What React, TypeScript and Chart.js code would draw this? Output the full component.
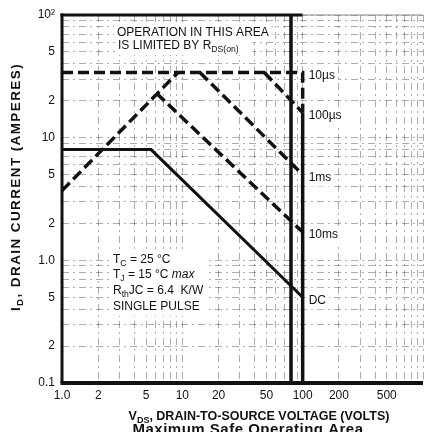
import React, { useEffect, useRef } from 'react';
import { Chart, registerables } from 'chart.js';

Chart.register(...registerables);

// grid / tick values
const xGrid = [1, 2, 3, 4, 5, 6, 7, 8, 9, 10, 20, 30, 40, 50, 60, 70, 80, 90, 100, 200, 300, 400, 500, 600, 700, 800, 900, 1000];
const yGrid = [0.1, 0.2, 0.3, 0.4, 0.5, 0.6, 0.7, 0.8, 0.9, 1, 2, 3, 4, 5, 6, 7, 8, 9, 10, 20, 30, 40, 50, 60, 70, 80, 90, 100];
const xTickValues = [1, 2, 5, 10, 20, 50, 100, 200, 500];
const xTickLabels = ['1.0', '2', '5', '10', '20', '50', '100', '200', '500'];
const yTickValues = [0.1, 0.2, 0.5, 1, 2, 5, 10, 20, 50, 100];
const yTickLabels = ['0.1', '2', '5', '1.0', '2', '5', '10', '2', '5', '10²'];

// curves (volts, amperes)
const rdsV = [1, 9.2];
const rdsI = [3.7, 34];
const us10V = [1, 100, 100];
const us10I = [34, 34, 16];
const us100V = [48, 100];
const us100I = [34, 16];
const ms1V = [14, 100];
const ms1I = [34, 5];
const ms10V = [6.1, 100];
const ms10I = [23, 1.7];
const dcV = [1, 5.5, 100];
const dcI = [8, 8, 0.5];
const bv100V = [100, 100];
const bv100I = [16, 0.1];
const bv80V = [80, 80];
const bv80I = [100, 0.1];

const curveNames = ['10µs', '100µs', '1ms', '10ms', 'DC'];
const curveEndI = [us10I[1], us100I[1], ms1I[1], ms10I[1], dcI[2]];
const curveEndV = 100;

const FONT = '"Liberation Sans", Arial, Helvetica, sans-serif';

const pts = (xs: number[], ys: number[]) => xs.map((x, i) => ({ x, y: ys[i] }));
const findLabel = (vals: number[], labels: string[], v: number) => {
  const i = vals.findIndex((t) => Math.abs(t - v) / t < 1e-6);
  return i >= 0 ? labels[i] : '';
};

type Part = { t: string; sub?: boolean; italic?: boolean };

function richWidth(ctx: CanvasRenderingContext2D, parts: Part[], size: number, bold: boolean) {
  let w = 0;
  for (const p of parts) {
    const s = p.sub ? size * 0.72 : size;
    ctx.font = `${p.italic ? 'italic ' : ''}${bold ? 'bold ' : ''}${s}px ${FONT}`;
    w += ctx.measureText(p.t).width;
  }
  return w;
}

function drawRich(ctx: CanvasRenderingContext2D, parts: Part[], x: number, y: number, size: number, bold: boolean) {
  let cx = x;
  ctx.textBaseline = 'middle';
  ctx.textAlign = 'left';
  for (const p of parts) {
    const s = p.sub ? size * 0.72 : size;
    ctx.font = `${p.italic ? 'italic ' : ''}${bold ? 'bold ' : ''}${s}px ${FONT}`;
    ctx.fillText(p.t, cx, p.sub ? y + size * 0.3 : y);
    cx += ctx.measureText(p.t).width;
  }
}

function clearBehind(ctx: CanvasRenderingContext2D, parts: Part[], x: number, y: number, size: number) {
  const w = richWidth(ctx, parts, size, false);
  ctx.save();
  ctx.fillStyle = '#fff';
  ctx.fillRect(x - 3, y - size * 0.6, w + 6, size * 1.35);
  ctx.restore();
}

const annotPlugin = {
  id: 'annot',
  beforeDatasetsDraw(chart: any) {
    const ctx: CanvasRenderingContext2D = chart.ctx;
    const xs = chart.scales.x;
    const ys = chart.scales.y;
    ctx.save();
    for (let i = 0; i < curveNames.length; i++) {
      const px = xs.getPixelForValue(curveEndV) + 6;
      const py = ys.getPixelForValue(curveEndI[i]) + 3;
      clearBehind(ctx, [{ t: curveNames[i] }], px, py, 12);
    }
    clearBehind(ctx, [{ t: 'OPERATION IN THIS AREA' }], 117, 33, 12);
    clearBehind(ctx, [{ t: 'IS LIMITED BY RDS(on)' }], 118, 46, 12);
    clearBehind(ctx, [{ t: 'RthJC = 6.4  K/W' }], 113, 260, 12);
    clearBehind(ctx, [{ t: 'RthJC = 6.4  K/W' }], 113, 275, 12);
    clearBehind(ctx, [{ t: 'RthJC = 6.4  K/W' }], 113, 291, 12);
    clearBehind(ctx, [{ t: 'RthJC = 6.4  K/W' }], 113, 307, 12);
    ctx.restore();
  },
  afterDraw(chart: any) {
    const ctx: CanvasRenderingContext2D = chart.ctx;
    const xs = chart.scales.x;
    const ys = chart.scales.y;
    const a = chart.chartArea;
    ctx.save();
    ctx.fillStyle = '#111';
    ctx.strokeStyle = '#111';

    // borders
    ctx.lineCap = 'butt';
    ctx.lineWidth = 3;
    ctx.beginPath();
    ctx.moveTo(a.left, a.top - 1.5);
    ctx.lineTo(a.left, a.bottom);
    ctx.stroke();
    ctx.beginPath();
    ctx.moveTo(a.left - 1.5, a.top);
    ctx.lineTo(xs.getPixelForValue(100), a.top);
    ctx.stroke();
    ctx.lineWidth = 4;
    ctx.beginPath();
    ctx.moveTo(a.left - 1.5, a.bottom);
    ctx.lineTo(a.right, a.bottom);
    ctx.stroke();
    ctx.lineWidth = 1;
    ctx.strokeStyle = '#888';
    ctx.beginPath();
    ctx.moveTo(xs.getPixelForValue(100), a.top);
    ctx.lineTo(a.right, a.top);
    ctx.stroke();

    // curve labels
    for (let i = 0; i < curveNames.length; i++) {
      const px = xs.getPixelForValue(curveEndV) + 6;
      const py = ys.getPixelForValue(curveEndI[i]) + 3;
      drawRich(ctx, [{ t: curveNames[i] }], px, py, 12, false);
    }

    // Rds annotation
    drawRich(ctx, [{ t: 'OPERATION IN THIS AREA' }], 117, 33, 12, false);
    drawRich(ctx, [{ t: 'IS LIMITED BY R' }, { t: 'DS(on)', sub: true }], 118, 46, 12, false);

    // conditions
    drawRich(ctx, [{ t: 'T' }, { t: 'C', sub: true }, { t: ' = 25 °C' }], 113, 260, 12, false);
    drawRich(ctx, [{ t: 'T' }, { t: 'J', sub: true }, { t: ' = 15 °C ' }, { t: 'max', italic: true }], 113, 275, 12, false);
    drawRich(ctx, [{ t: 'R' }, { t: 'th', sub: true }, { t: 'JC = 6.4  K/W' }], 113, 291, 12, false);
    drawRich(ctx, [{ t: 'SINGLE PULSE' }], 113, 307, 12, false);

    // x title
    const xt: Part[] = [{ t: 'V' }, { t: 'DS', sub: true }, { t: ', DRAIN-TO-SOURCE VOLTAGE (VOLTS)' }];
    const xw = richWidth(ctx, xt, 12.5, true);
    drawRich(ctx, xt, 259 - xw / 2, 417, 12.5, true);

    // caption
    (ctx as any).letterSpacing = '0.5px';
    const cap: Part[] = [{ t: 'Maximum Safe Operating Area' }];
    const cw = richWidth(ctx, cap, 15, true);
    drawRich(ctx, cap, 248 - cw / 2, 430, 15, true);

    // y title
    (ctx as any).letterSpacing = '1.4px';
    const yt: Part[] = [{ t: 'I' }, { t: 'D', sub: true }, { t: ', DRAIN CURRENT (AMPERES)' }];
    const yw = richWidth(ctx, yt, 13.5, true);
    ctx.translate(16, 187);
    ctx.rotate(-Math.PI / 2);
    drawRich(ctx, yt, -yw / 2, 0, 13.5, true);
    ctx.restore();
  },
};

export default function App() {
  const ref = useRef<HTMLCanvasElement | null>(null);
  useEffect(() => {
    if (!ref.current) return;
    const dashed = { borderColor: '#111', borderWidth: 3.5, borderDash: [11, 5], pointRadius: 0, tension: 0, fill: false };
    const solid = { borderColor: '#111', borderWidth: 3, pointRadius: 0, tension: 0, fill: false };
    const gridColor = 'rgba(0,0,0,0.32)';
    const chart = new Chart(ref.current, {
      type: 'line',
      data: {
        datasets: [
          { label: 'RDS(on)', data: pts(rdsV, rdsI), ...dashed },
          { label: '10µs', data: pts(us10V, us10I), ...dashed },
          { label: '100µs', data: pts(us100V, us100I), ...dashed },
          { label: '1ms', data: pts(ms1V, ms1I), ...dashed },
          { label: '10ms', data: pts(ms10V, ms10I), ...dashed },
          { label: 'DC', data: pts(dcV, dcI), ...solid },
          { label: 'BV100', data: pts(bv100V, bv100I), ...solid, borderWidth: 3.5 },
          { label: 'BV80', data: pts(bv80V, bv80I), ...solid, borderWidth: 3.5 },
        ] as any,
      },
      options: {
        animation: false,
        responsive: false,
        devicePixelRatio: 1,
        parsing: false as any,
        layout: { padding: { top: 15, right: 0, left: 0, bottom: 0 } },
        plugins: { legend: { display: false }, tooltip: { enabled: false } },
        scales: {
          x: {
            type: 'logarithmic',
            min: 1,
            max: 1000,
            afterBuildTicks: (s: any) => {
              s.ticks = xGrid.map((v) => ({ value: v }));
            },
            afterFit: (s: any) => {
              s.height = 49;
            },
            grid: { color: gridColor, lineWidth: 1, drawTicks: false },
            border: { display: false, dash: [7, 4, 2, 4] },
            ticks: {
              autoSkip: false,
              maxRotation: 0,
              minRotation: 0,
              padding: 5,
              color: '#111',
              font: { family: FONT, size: 12 },
              callback: (v: any) => findLabel(xTickValues, xTickLabels, Number(v)),
            },
          },
          y: {
            type: 'logarithmic',
            min: 0.1,
            max: 100,
            afterBuildTicks: (s: any) => {
              s.ticks = yGrid.map((v) => ({ value: v }));
            },
            afterFit: (s: any) => {
              s.width = 62;
            },
            grid: { color: gridColor, lineWidth: 1, drawTicks: false },
            border: { display: false, dash: [7, 4, 2, 4] },
            ticks: {
              autoSkip: false,
              padding: 7,
              color: '#111',
              font: { family: FONT, size: 12 },
              callback: (v: any) => findLabel(yTickValues, yTickLabels, Number(v)),
            },
          },
        },
      } as any,
      plugins: [annotPlugin],
    });
    return () => chart.destroy();
  }, []);
  return (
    <div style={{ position: 'fixed', left: 0, top: 0, width: 428, height: 432, background: '#fff' }}>
      <canvas ref={ref} width={428} height={432} style={{ width: 428, height: 432, display: 'block' }} />
    </div>
  );
}
